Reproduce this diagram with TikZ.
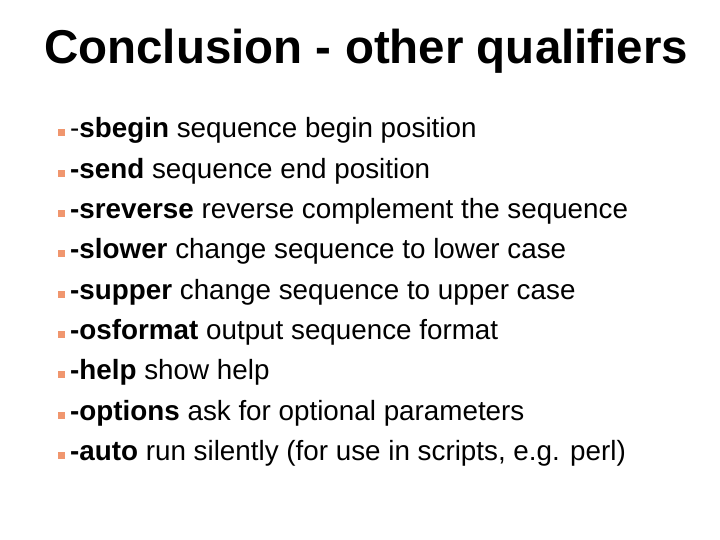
\documentclass[tikz,border=0pt]{standalone}
\usepackage{fontspec}
\setmainfont{Liberation Sans}
\definecolor{bulletorange}{RGB}{240,150,110}
\tikzset{
  titletext/.style={anchor=base west,inner sep=0pt,font=\fontsize{47.5}{50}\selectfont\bfseries},
  itemtext/.style={anchor=base west,inner sep=0pt,font=\fontsize{27.8}{30}\selectfont},
  itembullet/.style={fill=bulletorange,minimum size=7pt,inner sep=0pt}
}
\begin{document}
\begin{tikzpicture}[x=1pt,y=-1pt]
\useasboundingbox (0,0) rectangle (720,540);
\node[titletext] (title) at (44,64) {Conclusion - other qualifiers};
% option list
\foreach \k/\txt in {
  0/{-\textbf{sbegin} sequence begin position},
  1/{\textbf{-send} sequence end position},
  2/{\textbf{-sreverse} reverse complement the sequence},
  3/{\textbf{-slower} change sequence to lower case},
  4/{\textbf{-supper} change sequence to upper case},
  5/{\textbf{-osformat} output sequence format},
  6/{\textbf{-help} show help},
  7/{\textbf{-options} ask for optional parameters},
  8/{\textbf{-auto} run silently (for use in scripts, e.g. perl)}}
{
  \node[itembullet] (b\k) at (61,{133+40.3*\k}) {};
  \node[itemtext] (t\k) at (70,{138+40.3*\k}) {\txt};
}
\end{tikzpicture}
\end{document}
